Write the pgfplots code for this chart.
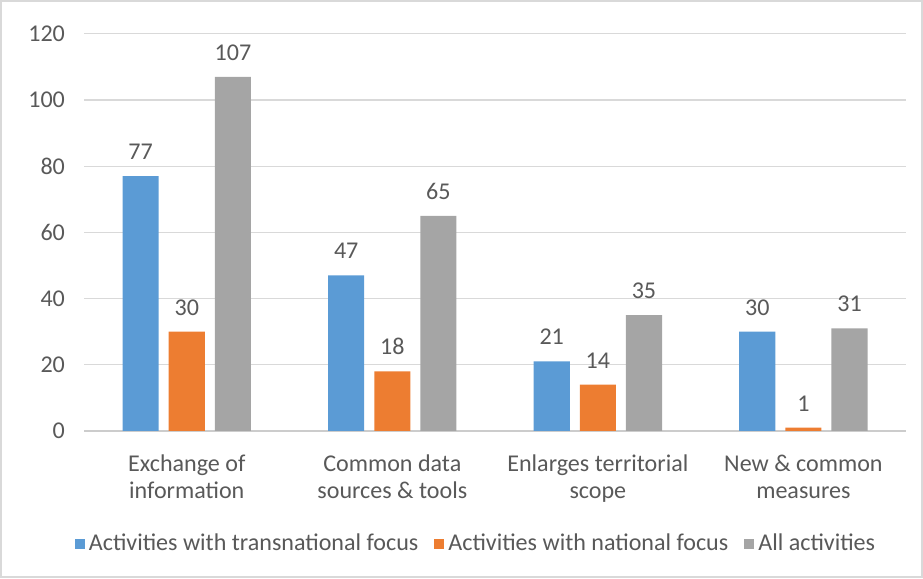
\documentclass[border=0pt]{standalone}
\usepackage{fontspec}
\setmainfont{Carlito}
\usepackage{pgfplots}
\pgfplotsset{compat=1.18}

\definecolor{cblue}{HTML}{5B9BD5}
\definecolor{corange}{HTML}{ED7D31}
\definecolor{cgray}{HTML}{A5A5A5}
\definecolor{ctext}{HTML}{595959}
\definecolor{cgrid}{HTML}{D9D9D9}

\begin{document}
\begin{tikzpicture}
\begin{axis}[
    name=ax,
    scale only axis,
    width=410pt, height=198pt,
    ybar=5pt,
    bar width=18pt,
    xmin=-0.5, xmax=3.5,
    ymin=0, ymax=120,
    ytick={0,20,...,120},
    xtick=data,
    xticklabels={Exchange of\\information, Common data\\sources \& tools, Enlarges territorial\\scope, New \& common\\measures},
    xticklabel style={align=center, font=\fontsize{12}{13.5}\selectfont, text=ctext, yshift=-8.5pt},
    yticklabel style={font=\fontsize{12}{13}\selectfont, text=ctext, xshift=-6pt},
    /pgf/number format/assume math mode=true,
    major tick length=0pt,
    axis y line*=left,
    axis x line*=bottom,
    y axis line style={draw=none},
    x axis line style={draw=cgrid!85!gray, line width=0.8pt},
    ymajorgrids,
    grid style={cgrid, line width=0.6pt},
    nodes near coords,
    every node near coord/.append style={font=\fontsize{12}{13}\selectfont, text=ctext, inner sep=0pt, yshift=8pt},
    clip=false,
    legend style={
        at={(0.478,-0.285)}, anchor=center,
        draw=none, legend columns=3,
        font=\fontsize{12}{13}\selectfont, text=ctext,
        /tikz/every even column/.append style={column sep=6pt},
    },
    legend image code/.code={\fill[#1] (0pt,-2.5pt) rectangle (5pt,2.5pt);},
]
\addplot[fill=cblue, draw=none] coordinates {(0,77) (1,47) (2,21) (3,30)};
\addplot[fill=corange, draw=none] coordinates {(0,30) (1,18) (2,14) (3,1)};
\addplot[fill=cgray, draw=none] coordinates {(0,107) (1,65) (2,35) (3,31)};
\legend{Activities with transnational focus, Activities with national focus, All activities}
\end{axis}
\draw[cgrid, line width=0.8pt] ([shift={(-41.5pt,-73pt)}]ax.south west) rectangle ([shift={(8pt,16.5pt)}]ax.north east);
\end{tikzpicture}
\end{document}
